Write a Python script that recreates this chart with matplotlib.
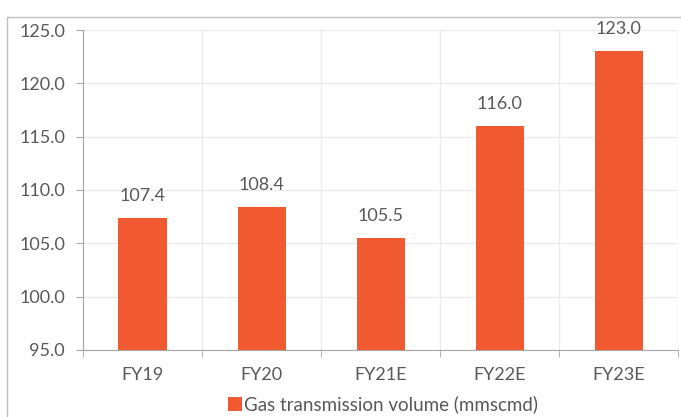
import matplotlib.pyplot as plt
from matplotlib.patches import Rectangle

categories = ["FY19", "FY20", "FY21E", "FY22E", "FY23E"]
volumes = [107.4, 108.4, 105.5, 116.0, 123.0]
yticks = [95.0, 100.0, 105.0, 110.0, 115.0, 120.0, 125.0]
series_name = "Gas transmission volume (mmscmd)"

bar_color = "#F15A31"
text_color = "#595959"
plt.rcParams['font.family'] = ['Lato', 'DejaVu Sans']
fs = 13

fig = plt.figure(figsize=(6.81, 4.17), dpi=100)
ax = fig.add_axes([0.122, 0.161, 0.874, 0.767])

x = list(range(len(categories)))
bars = ax.bar(x, volumes, width=0.405, color=bar_color, zorder=3, label=series_name)
for xi, v in zip(x, volumes):
    ax.annotate("%.1f" % v, (xi, v), xytext=(0, 10), textcoords="offset points",
                ha="center", va="bottom", fontsize=fs, color=text_color)

ax.set_ylim(95, 125)
ax.set_xlim(-0.5, len(categories) - 0.5)
ax.set_yticks(yticks)
ax.set_yticklabels(["%.1f" % t for t in yticks], fontsize=fs, color=text_color)
ax.set_xticks(x)
ax.set_xticklabels(categories, fontsize=fs, color=text_color)
ax.tick_params(axis="x", length=0, pad=12)
ax.tick_params(axis="y", length=5, color="#A6A6A6", pad=8)
ax.set_xticks([i - 0.5 for i in range(len(categories) + 1)], minor=True)
ax.tick_params(axis="x", which="minor", length=5, color="#A6A6A6")

ax.grid(True, axis="y", color="#EBEBEB", lw=1, zorder=0)
ax.grid(True, axis="x", which="minor", color="#EBEBEB", lw=1, zorder=0)
for s in ["top", "right"]:
    ax.spines[s].set_visible(False)
for s in ["left", "bottom"]:
    ax.spines[s].set_color("#A6A6A6")

leg = fig.legend(handles=[bars], labels=[series_name], loc="center",
                 bbox_to_anchor=(0.562, 0.03), frameon=False, fontsize=fs + 0.5,
                 handlelength=0.75, handleheight=0.75, handletextpad=0.1)
for t in leg.get_texts():
    t.set_color(text_color)

fig.patches.append(Rectangle((7 / 681, -0.1), 1.0, (417 - 17) / 417 + 0.1,
                             transform=fig.transFigure, fill=False,
                             edgecolor="#BFBFBF", lw=1))

fig.savefig("out.png", dpi=100)
